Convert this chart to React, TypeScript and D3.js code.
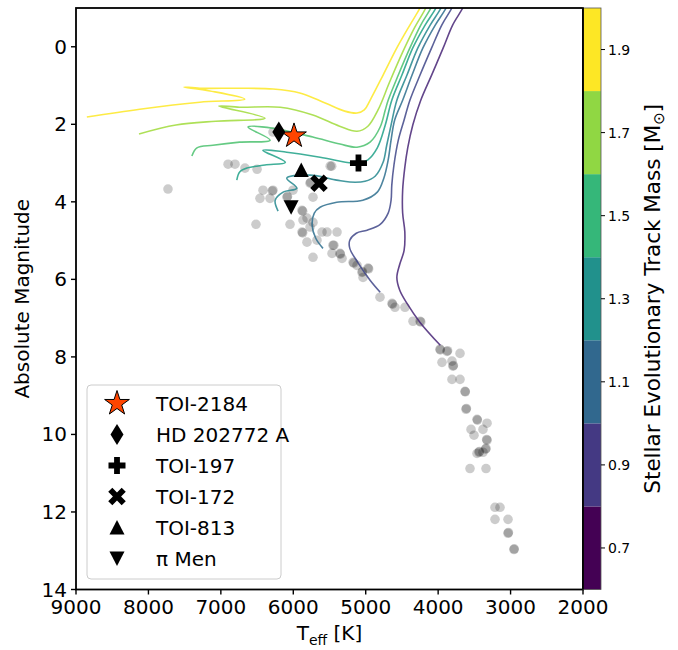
import React from "react";
import * as d3 from "d3";

// ---------- axis ticks ----------
const xTicks = [9000, 8000, 7000, 6000, 5000, 4000, 3000, 2000];
const yTicks = [0, 2, 4, 6, 8, 10, 12, 14];
const massBandEdges = [0.6, 0.8, 1.0, 1.2, 1.4, 1.6, 1.8, 2.0];
const massTicks = [0.7, 0.9, 1.1, 1.3, 1.5, 1.7, 1.9];

// ---------- evolutionary tracks: [Teff, M_abs] ----------
const trackMasses = [2.0, 1.8, 1.6, 1.4, 1.25, 1.1, 0.9, 0.75];
const track20: [number, number][] = [[8850,1.81],[8120,1.61],[7290,1.43],[6670,1.35],[7150,1.14],[7510,1.04],[7290,1.07],[6740,1.07],[6280,1.09],[5910,1.19],[5560,1.45],[5290,1.66],[5120,1.71],[5020,1.63],[4940,1.38],[4760,0.73],[4570,0.03],[4390,-0.56],[4250,-1.0],[4150,-1.4]];
const track18: [number, number][] = [[8130,2.25],[7620,2.02],[7070,1.92],[6390,1.84],[7030,1.53],[6740,1.56],[6180,1.56],[5730,1.76],[5360,2.05],[5120,2.18],[4970,2.05],[4830,1.63],[4670,0.91],[4490,0.14],[4320,-0.51],[4170,-1.0],[4080,-1.4]];
const track16: [number, number][] = [[7400,2.82],[7330,2.61],[7110,2.54],[6740,2.46],[6320,2.41],[6625,2.07],[6280,2.10],[5730,2.33],[5355,2.51],[5120,2.59],[4940,2.46],[4800,2.07],[4730,1.63],[4690,1.38],[4550,0.73],[4390,0.03],[4240,-0.56],[4100,-1.0],[4010,-1.4]];
const track14: [number, number][] = [[6780,3.44],[6740,3.23],[6640,3.13],[6390,3.05],[6110,2.98],[6420,2.67],[6090,2.72],[5630,2.85],[5190,3.0],[5080,3.0],[4970,2.92],[4840,2.61],[4730,2.02],[4640,1.38],[4500,0.73],[4350,0.03],[4180,-0.56],[4030,-1.0],[3940,-1.4]];
const track125: [number, number][] = [[6210,4.24],[6250,3.96],[6140,3.75],[5950,3.65],[6090,3.39],[5770,3.31],[5400,3.44],[5220,3.49],[5010,3.47],[4870,3.34],[4760,2.98],[4710,2.54],[4650,2.02],[4570,1.38],[4430,0.73],[4280,0.03],[4110,-0.56],[3960,-1.0],[3870,-1.4]];
const track11: [number, number][] = [[5590,5.2],[5690,4.94],[5740,4.6],[5710,4.29],[5630,4.14],[5400,4.01],[5040,3.96],[4840,3.75],[4750,3.39],[4690,2.92],[4650,2.41],[4600,1.89],[4490,1.38],[4360,0.73],[4210,0.03],[4040,-0.56],[3890,-1.0],[3800,-1.4]];
const track09: [number, number][] = [[4800,6.33],[4940,6.02],[5110,5.56],[5220,5.2],[5220,4.99],[5130,4.81],[4980,4.73],[4800,4.58],[4690,4.29],[4650,3.96],[4640,3.57],[4610,3.05],[4550,2.41],[4470,1.89],[4390,1.38],[4250,0.73],[4090,0.03],[3950,-0.56],[3810,-1.0],[3710,-1.4]];
const track075: [number, number][] = [[3970,7.7],[4250,7.11],[4430,6.62],[4530,6.28],[4570,5.95],[4530,5.61],[4470,5.25],[4460,4.78],[4490,4.29],[4490,3.7],[4460,3.11],[4420,2.61],[4350,2.02],[4240,1.38],[4090,0.73],[3930,0.03],[3800,-0.56],[3660,-1.0],[3560,-1.4]];
const tracks = [track20, track18, track16, track14, track125, track11, track09, track075];

// ---------- field stars ----------
const fieldTeff = [7730,6900,6805,6667,6500,6280,5490,5470,6418,6280,6290,6460,6321,6004,6087,6080,5728,6515,6045,5880,5870,5811,5728,5880,5870,5603,5534,5396,5811,5673,5728,5452,5440,5465,5355,5350,5327,5175,5165,5120,5051,5045,4968,4960,5037,4803,4637,4630,4596,4458,4347,4250,4240,5769,5760,5866,5769,3974,3970,3878,3870,3698,3947,3809,3795,3790,3809,3698,3629,3625,3615,3610,3463,3458,3325,3546,3381,3505,3325,3330,3339,3345,3436,3430,3381,3463,3560,3339,3215,3146,3215,3035,3035,3030,2953,2950];
const fieldMag = [3.67,3.03,3.03,3.13,3.16,2.2,3.08,3.08,3.7,3.7,3.72,3.91,3.91,3.7,3.88,3.86,3.88,4.58,4.58,4.22,4.24,4.42,4.53,4.78,4.8,4.78,4.78,4.78,5.04,4.99,5.43,5.12,5.12,5.33,5.33,5.35,5.46,5.56,5.58,5.64,5.82,5.8,5.71,5.73,5.95,6.46,6.62,6.64,6.72,6.72,7.08,7.08,7.1,3.52,3.5,4.47,4.65,7.8,7.82,7.86,7.84,7.91,8.14,8.11,8.24,8.22,8.58,8.58,8.89,8.9,9.35,9.33,9.61,9.63,9.71,9.87,9.87,10.02,10.15,10.13,10.36,10.38,10.46,10.44,10.46,10.49,10.88,10.88,11.88,11.88,12.19,12.19,12.55,12.53,12.97,12.95];

// ---------- planet hosts ----------
const hostNames = ["TOI-2184", "HD 202772 A", "TOI-197", "TOI-172", "TOI-813", "π Men"];
const hostTeff = [5990, 6200, 5100, 5645, 5890, 6030];
const hostMag = [2.3, 2.2, 3.0, 3.52, 3.18, 4.14];
const hostShapes = ["star", "diamond", "plus", "x", "triUp", "triDown"];

// ---------- layout ----------
const W = 678, H = 650;
const L = 76, R = 583, T = 8, B = 589.5;
const CBW = 18;
const FONT = "DejaVu Sans";

function markerPath(shape: string): string {
  switch (shape) {
    case "star": {
      const Ro = 13, Ri = 13 * 0.382;
      const pts: string[] = [];
      for (let i = 0; i < 10; i++) {
        const r = i % 2 === 0 ? Ro : Ri;
        const a = -Math.PI / 2 + (i * Math.PI) / 5;
        pts.push(`${(r * Math.cos(a)).toFixed(2)},${(r * Math.sin(a)).toFixed(2)}`);
      }
      return "M" + pts.join("L") + "Z";
    }
    case "diamond":
      return "M0,-10.5L6.5,0L0,10.5L-6.5,0Z";
    case "plus": {
      const s = 8.5, t = 2.9;
      return `M${-t},${-s}H${t}V${-t}H${s}V${t}H${t}V${s}H${-t}V${t}H${-s}V${-t}H${-t}Z`;
    }
    case "x": {
      const s = 9.5, t = 2.9;
      const pts = [[-t,-s],[t,-s],[t,-t],[s,-t],[s,t],[t,t],[t,s],[-t,s],[-t,t],[-s,t],[-s,-t],[-t,-t]];
      const c = Math.cos(Math.PI / 4);
      return "M" + pts.map(([a, b]) => `${((a - b) * c).toFixed(2)},${((a + b) * c).toFixed(2)}`).join("L") + "Z";
    }
    case "triUp":
      return "M0,-7.5L7.5,7L-7.5,7Z";
    case "triDown":
      return "M0,7.5L7.5,-7L-7.5,-7Z";
  }
  return "";
}

export default function App() {
  const x = d3.scaleLinear().domain([9000, 2000]).range([L, R]);
  const y = d3.scaleLinear().domain([-1, 14]).range([T, B]);
  const cb = d3.scaleLinear().domain([0.6, 2.0]).range([B, T]);
  const line = d3
    .line<[number, number]>()
    .x((d) => x(d[0]))
    .y((d) => y(d[1]))
    .curve(d3.curveCatmullRom.alpha(0.5));
  const trackColor = (m: number) => d3.interpolateViridis((m - 0.6) / 1.4);
  const legendY0 = 403.5, legendDY = 31;

  return (
    <svg
      width={W}
      height={H}
      style={{ position: "absolute", left: 0, top: 0, background: "#fff" }}
      fontFamily={FONT}
    >
      <defs>
        <clipPath id="plotclip">
          <rect x={L} y={T} width={R - L} height={B - T} />
        </clipPath>
      </defs>
      <rect x={0} y={0} width={W} height={H} fill="#fff" />

      {/* field stars */}
      <g>
        {fieldTeff.map((t, i) => (
          <circle key={i} cx={x(t)} cy={y(fieldMag[i])} r={4.8} fill="#000" fillOpacity={0.2} />
        ))}
      </g>

      {/* tracks */}
      <g clipPath="url(#plotclip)">
        {tracks.map((tr, i) => (
          <path
            key={i}
            d={line(tr) || ""}
            fill="none"
            stroke={trackColor(trackMasses[i])}
            strokeOpacity={0.85}
            strokeWidth={1.6}
          />
        ))}
      </g>

      {/* hosts */}
      <g>
        {hostNames.map((n, i) => (
          <path
            key={n}
            transform={`translate(${x(hostTeff[i])},${y(hostMag[i])})`}
            d={markerPath(hostShapes[i])}
            fill={hostShapes[i] === "star" ? "#ff4500" : "#000"}
            stroke={hostShapes[i] === "star" ? "#000" : "none"}
            strokeWidth={1}
          />
        ))}
      </g>

      {/* legend */}
      <g>
        <rect x={87} y={385} width={194} height={194} rx={4} fill="#fff" fillOpacity={0.8} stroke="#cccccc" strokeWidth={1} />
        {hostNames.map((n, i) => (
          <g key={n} transform={`translate(0,${legendY0 + i * legendDY})`}>
            <path
              transform="translate(117,0)"
              d={markerPath(hostShapes[i])}
              fill={hostShapes[i] === "star" ? "#ff4500" : "#000"}
              stroke={hostShapes[i] === "star" ? "#000" : "none"}
              strokeWidth={1}
            />
            <text x={156} y={0} dominantBaseline="central" fontSize={20} fill="#000">
              {n}
            </text>
          </g>
        ))}
      </g>

      {/* axes frame */}
      <rect x={L} y={T} width={R - L} height={B - T} fill="none" stroke="#000" strokeWidth={1.8} />

      {/* x ticks */}
      {xTicks.map((t) => (
        <g key={t}>
          <line x1={x(t)} x2={x(t)} y1={B} y2={B + 5} stroke="#000" strokeWidth={1.4} />
          <text x={x(t)} y={B + 24} textAnchor="middle" fontSize={20} fill="#000">
            {t}
          </text>
        </g>
      ))}
      {/* y ticks */}
      {yTicks.map((t) => (
        <g key={t}>
          <line x1={L - 5} x2={L} y1={y(t)} y2={y(t)} stroke="#000" strokeWidth={1.4} />
          <text x={L - 9} y={y(t)} dominantBaseline="central" textAnchor="end" fontSize={20} fill="#000">
            {t}
          </text>
        </g>
      ))}

      {/* axis labels */}
      <text x={(L + R) / 2} y={640} textAnchor="middle" fontSize={20} fill="#000">
        T<tspan fontSize={14} dy={5}>eff</tspan>
        <tspan dy={-5}> [K]</tspan>
      </text>
      <text transform={`translate(29,${(T + B) / 2}) rotate(-90)`} textAnchor="middle" fontSize={20} fill="#000">
        Absolute Magnitude
      </text>

      {/* colorbar */}
      <g>
        {massBandEdges.slice(0, -1).map((m0, i) => (
          <rect
            key={i}
            x={R}
            y={cb(massBandEdges[i + 1])}
            width={CBW}
            height={cb(m0) - cb(massBandEdges[i + 1])}
            fill={d3.interpolateViridis(i / (massBandEdges.length - 2))}
          />
        ))}
        <rect x={R} y={T} width={CBW} height={B - T} fill="none" stroke="#555" strokeWidth={0.8} />
        <line x1={R} x2={R} y1={T} y2={B} stroke="#000" strokeWidth={1.8} />
        {massTicks.map((m) => (
          <g key={m}>
            <line x1={R + CBW} x2={R + CBW + 4} y1={cb(m)} y2={cb(m)} stroke="#000" strokeWidth={1} />
            <text x={R + CBW + 7} y={cb(m)} dominantBaseline="central" fontSize={14} fill="#000">
              {m.toFixed(1)}
            </text>
          </g>
        ))}
        <text transform={`translate(660,${(T + B) / 2}) rotate(-90)`} textAnchor="middle" fontSize={21.5} fill="#000">
          Stellar Evolutionary Track Mass [M<tspan fontSize={15} dy={4}>⊙</tspan>
          <tspan dy={-4}>]</tspan>
        </text>
      </g>
    </svg>
  );
}
